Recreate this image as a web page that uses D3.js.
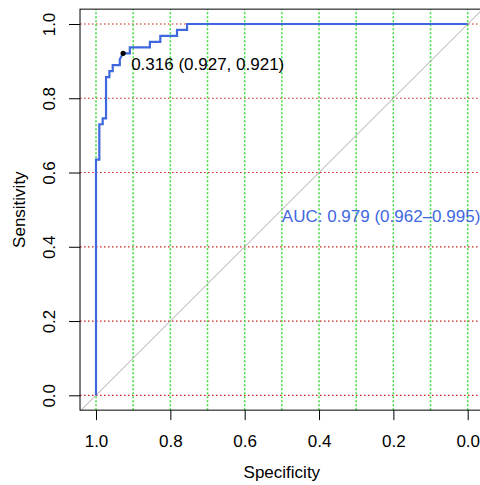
<!DOCTYPE html>
<html>
<head>
<meta charset="utf-8">
<script src="https://cdn.jsdelivr.net/npm/d3@7"></script>
<style>
  html, body { margin: 0; padding: 0; background: #fff; }
  svg { display: block; }
  text { font-family: "Liberation Sans", Arial, Helvetica, sans-serif; }
</style>
</head>
<body>
<svg id="chart" width="480" height="485"></svg>
<script>
// ROC curve vertices (specificity, sensitivity), from spec = 1 down to spec = 0
const specificity = [1.000, 1.000, 0.991, 0.991, 0.982, 0.982, 0.973, 0.973, 0.964, 0.964,
                     0.955, 0.955, 0.936, 0.936, 0.927, 0.909, 0.909, 0.855, 0.855, 0.827,
                     0.827, 0.782, 0.782, 0.755, 0.755, 0.000];
const sensitivity = [0.000, 0.635, 0.635, 0.730, 0.730, 0.746, 0.746, 0.857, 0.857, 0.873,
                     0.873, 0.889, 0.889, 0.905, 0.921, 0.921, 0.937, 0.937, 0.952, 0.952,
                     0.968, 0.968, 0.984, 0.984, 1.000, 1.000];

// best threshold and AUC summary
const bestThreshold = 0.316;
const bestSpec = 0.927;
const bestSens = 0.921;
const aucValue = 0.979;
const aucCI = [0.962, 0.995];

// axis ticks and grid positions
const xTicks = [1.0, 0.8, 0.6, 0.4, 0.2, 0.0];
const yTicks = [0.0, 0.2, 0.4, 0.6, 0.8, 1.0];
const xGrid = [1.0, 0.9, 0.8, 0.7, 0.6, 0.5, 0.4, 0.3, 0.2, 0.1, 0.0];
const yGrid = [0.0, 0.2, 0.4, 0.6, 0.8, 1.0];

const svg = d3.select("#chart");
const fontSize = 17;

const x = d3.scaleLinear().domain([1, 0]).range([96, 467.7]);
const y = d3.scaleLinear().domain([0, 1]).range([395.3, 24]);

// plot region (slightly wider than the data range)
const xLim = [1.043, -0.043];
const yLim = [-0.04, 1.04];
const boxLeft = x(xLim[0]), boxRight = x(xLim[1]);
const boxBottom = y(yLim[0]), boxTop = y(yLim[1]);

// grid: red dotted horizontals, green dotted verticals
svg.append("g").selectAll("line").data(yGrid).join("line")
  .attr("x1", boxLeft).attr("x2", boxRight)
  .attr("y1", d => y(d)).attr("y2", d => y(d))
  .attr("stroke", "#d21e1e").attr("stroke-width", 1.2)
  .attr("stroke-dasharray", "1.5,2.5");

svg.append("g").selectAll("line").data(xGrid).join("line")
  .attr("x1", d => x(d)).attr("x2", d => x(d))
  .attr("y1", boxBottom).attr("y2", boxTop)
  .attr("stroke", "#3ddc3d").attr("stroke-width", 1.5)
  .attr("stroke-dasharray", "2,2");

// identity diagonal, clipped to the plot box
svg.append("clipPath").attr("id", "box")
  .append("rect").attr("x", boxLeft).attr("y", boxTop)
  .attr("width", boxRight - boxLeft).attr("height", boxBottom - boxTop);

svg.append("line")
  .attr("clip-path", "url(#box)")
  .attr("x1", x(xLim[0])).attr("y1", y(1 - xLim[0]))
  .attr("x2", x(xLim[1])).attr("y2", y(1 - xLim[1]))
  .attr("stroke", "#a9a9a9").attr("stroke-width", 1);

// ROC curve
const pts = specificity.map((s, i) => [s, sensitivity[i]]);
svg.append("path")
  .datum(pts)
  .attr("fill", "none")
  .attr("stroke", "#3f68df")
  .attr("stroke-width", 2.2)
  .attr("stroke-linejoin", "miter")
  .attr("d", d3.line().x(d => x(d[0])).y(d => y(d[1])));

// best threshold point and label
svg.append("circle")
  .attr("cx", x(bestSpec)).attr("cy", y(bestSens)).attr("r", 2.6)
  .attr("fill", "#000");
svg.append("text")
  .attr("x", x(bestSpec) + 8).attr("y", y(bestSens) + 16.7)
  .attr("font-size", fontSize).attr("fill", "#000")
  .text(`${bestThreshold.toFixed(3)} (${bestSpec.toFixed(3)}, ${bestSens.toFixed(3)})`);

// AUC label
svg.append("text")
  .attr("x", x(0.5)).attr("y", 222.3)
  .attr("font-size", fontSize).attr("fill", "#3f68df")
  .text(`AUC: ${aucValue.toFixed(3)} (${aucCI[0].toFixed(3)}\u2013${aucCI[1].toFixed(3)})`);

// plot box
svg.append("rect")
  .attr("x", boxLeft).attr("y", boxTop)
  .attr("width", boxRight - boxLeft).attr("height", boxBottom - boxTop)
  .attr("fill", "none").attr("stroke", "#000").attr("stroke-width", 1);

// x axis
const xAxis = svg.append("g")
  .attr("transform", `translate(0,${boxBottom})`)
  .call(d3.axisBottom(x).tickValues(xTicks).tickFormat(d3.format(".1f"))
    .tickSize(10).tickSizeOuter(0));
xAxis.select(".domain").remove();
xAxis.selectAll(".tick line").attr("stroke", "#000");
xAxis.selectAll(".tick text")
  .attr("y", 447 - boxBottom).attr("dy", null)
  .attr("font-size", fontSize).attr("font-family", null).attr("fill", "#000");

// y axis
const yAxis = svg.append("g")
  .attr("transform", `translate(${boxLeft},0)`)
  .call(d3.axisLeft(y).tickValues(yTicks).tickFormat(d3.format(".1f"))
    .tickSize(11).tickSizeOuter(0));
yAxis.select(".domain").remove();
yAxis.selectAll(".tick line").attr("stroke", "#000");
yAxis.selectAll(".tick text")
  .attr("transform", "rotate(-90)")
  .attr("x", 0).attr("y", 55 - boxLeft).attr("dy", null)
  .attr("text-anchor", "middle")
  .attr("font-size", fontSize).attr("font-family", null).attr("fill", "#000");

// axis titles
svg.append("text")
  .attr("x", (boxLeft + boxRight) / 2).attr("y", 478)
  .attr("text-anchor", "middle").attr("font-size", fontSize)
  .text("Specificity");

svg.append("text")
  .attr("transform", `translate(25,${(boxTop + boxBottom) / 2}) rotate(-90)`)
  .attr("text-anchor", "middle").attr("font-size", fontSize)
  .text("Sensitivity");
</script>
</body>
</html>
